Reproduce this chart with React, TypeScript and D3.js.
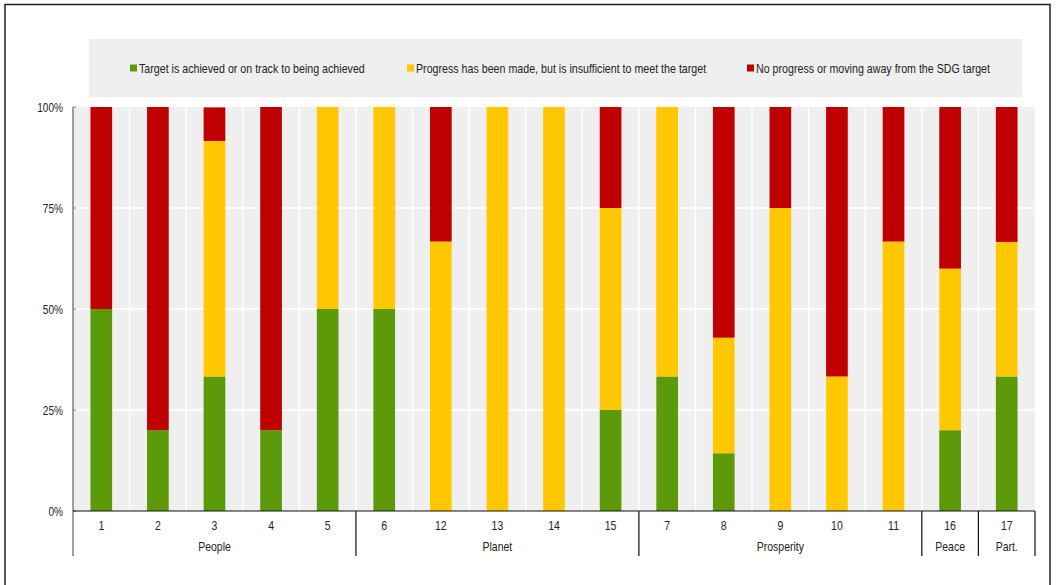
import React from "react";
import * as d3 from "d3";

// SDG goals, grouped by the five "P" areas
const goals = ["1", "2", "3", "4", "5", "6", "12", "13", "14", "15", "7", "8", "9", "10", "11", "16", "17"];
const groupNames = ["People", "Planet", "Prosperity", "Peace", "Part."];
const groupSizes = [5, 5, 5, 1, 1];

// Share of targets (%) in each status, per goal
const achieved = [50, 20, 33.3, 20, 50, 50, 0, 0, 0, 25, 33.3, 14.3, 0, 0, 0, 20, 33.3];
const progress = [0, 0, 58.3, 0, 50, 50, 66.7, 100, 100, 50, 66.7, 28.6, 75, 33.3, 66.7, 40, 33.3];
const noProgress = [50, 80, 8.3, 80, 0, 0, 33.3, 0, 0, 25, 0, 57.1, 25, 66.7, 33.3, 40, 33.4];

const yTicks = [0, 25, 50, 75, 100];

const seriesLabels = [
  "Target is achieved or on track to being achieved",
  "Progress has been made, but is insufficient to meet the target",
  "No progress or moving away from the SDG target",
];
const seriesColors = ["#5c9a0a", "#ffc800", "#c00000"];

const FONT = "'Liberation Sans', Arial, sans-serif";
const NARROW = 0.84;

// Condensed text: horizontal squeeze around the anchor point
function Txt({
  x,
  y,
  size = 12,
  anchor = "start",
  children,
}: {
  x: number;
  y: number;
  size?: number;
  anchor?: string;
  children: React.ReactNode;
}) {
  return (
    <text
      transform={`translate(${x},${y}) scale(${NARROW},1)`}
      fontSize={size}
      textAnchor={anchor}
      fill="#222"
    >
      {children}
    </text>
  );
}

export default function App() {
  const W = 1056;
  const H = 585;
  const left = 73;
  const right = 1035;
  const top = 107;
  const bottom = 511;

  const x = d3
    .scaleBand<string>()
    .domain(goals)
    .range([left, right])
    .paddingInner(0.617)
    .paddingOuter(0.3085);
  const step = x.step();
  const y = d3.scaleLinear().domain([0, 100]).range([bottom, top]);

  const rows = goals.map((g, i) => ({
    goal: g,
    achieved: achieved[i],
    progress: progress[i],
    noProgress: noProgress[i],
  }));
  const stack = d3.stack<any>().keys(["achieved", "progress", "noProgress"])(rows);

  // group boundaries in band units
  const boundaries: number[] = [0];
  groupSizes.forEach((s) => boundaries.push(boundaries[boundaries.length - 1] + s));

  const legendX = [130, 407, 747];

  return (
    <svg
      width={W}
      height={H}
      style={{ position: "absolute", left: 0, top: 0, background: "#fff" }}
      fontFamily={FONT}
    >
      {/* outer frame */}
      <rect x={5} y={4.5} width={1045} height={600} fill="none" stroke="#222" strokeWidth={1.5} />

      {/* legend */}
      <rect x={89} y={39} width={933} height={58} fill="#efefef" />
      {seriesLabels.map((lab, i) => (
        <g key={lab}>
          <rect x={legendX[i]} y={64.5} width={7} height={7} fill={seriesColors[i]} />
          <Txt x={legendX[i] + 9} y={73} size={12.7}>
            {lab}
          </Txt>
        </g>
      ))}

      {/* plot background */}
      <rect x={left} y={top} width={right - left} height={bottom - top} fill="#efefef" />
      {goals.slice(1).map((g) => (
        <line
          key={"v" + g}
          x1={(x(g) as number) - (step - x.bandwidth()) / 2}
          x2={(x(g) as number) - (step - x.bandwidth()) / 2}
          y1={top}
          y2={bottom}
          stroke="#fff"
          strokeWidth={1.5}
        />
      ))}
      {yTicks.slice(1, -1).map((t) => (
        <line key={"h" + t} x1={left} x2={right} y1={y(t)} y2={y(t)} stroke="#fff" strokeWidth={1.5} />
      ))}

      {/* stacked bars */}
      {stack.map((layer, li) => (
        <g key={layer.key} fill={seriesColors[li]}>
          {layer.map((d, i) =>
            d[1] - d[0] > 0 ? (
              <rect
                key={goals[i]}
                x={x(goals[i])}
                y={y(d[1])}
                width={x.bandwidth()}
                height={y(d[0]) - y(d[1])}
              />
            ) : null
          )}
        </g>
      ))}

      {/* y axis */}
      <line x1={left} x2={left} y1={top} y2={556} stroke="#7f7f7f" strokeWidth={1.5} />
      {yTicks.map((t) => (
        <g key={"yt" + t}>
          <line x1={left} x2={left + 3} y1={y(t)} y2={y(t)} stroke="#7f7f7f" strokeWidth={1} />
          <Txt x={63} y={y(t) + 4.5} size={12} anchor="end">
            {t}%
          </Txt>
        </g>
      ))}

      {/* x axis */}
      <line x1={left} x2={right} y1={bottom} y2={bottom} stroke="#111" strokeWidth={1.2} />
      {goals.map((g) => (
        <Txt key={"xl" + g} x={(x(g) as number) + x.bandwidth() / 2} y={530} size={12.5} anchor="middle">
          {g}
        </Txt>
      ))}
      {boundaries.slice(1).map((b) => (
        <line
          key={"sep" + b}
          x1={left + b * step}
          x2={left + b * step}
          y1={bottom}
          y2={556}
          stroke="#111"
          strokeWidth={1.2}
        />
      ))}
      {groupNames.map((name, i) => (
        <Txt
          key={name}
          x={left + ((boundaries[i] + boundaries[i + 1]) / 2) * step}
          y={551}
          size={12.5}
          anchor="middle"
        >
          {name}
        </Txt>
      ))}
    </svg>
  );
}
